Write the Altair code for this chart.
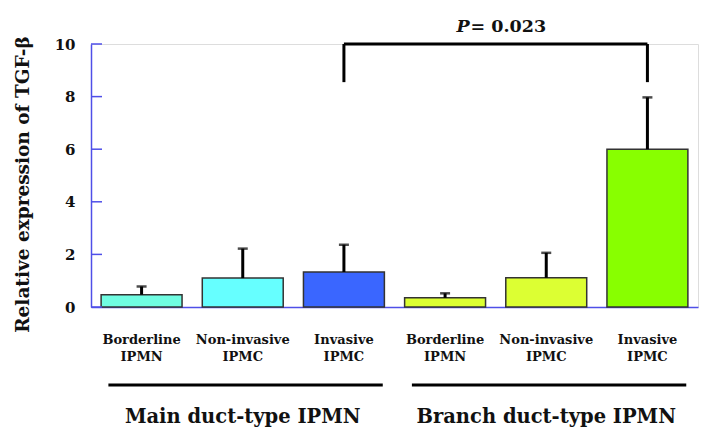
import altair as alt
import pandas as pd

# ---- data ----
cats = ["Main|Borderline|IPMN", "Main|Non-invasive|IPMC", "Main|Invasive|IPMC",
        "Branch|Borderline|IPMN", "Branch|Non-invasive|IPMC", "Branch|Invasive|IPMC"]
means = [0.47, 1.10, 1.33, 0.35, 1.11, 6.00]
upper = [0.78, 2.22, 2.37, 0.52, 2.06, 7.97]
colors = ["#70fde2", "#66ffff", "#3a66ff", "#dcff33", "#dcff33", "#88ff00"]

group_names = ["Main duct-type IPMN", "Branch duct-type IPMN"]
group_start = [cats[0], cats[3]]
group_end = [cats[2], cats[5]]
group_mid = [cats[1], cats[4]]

yticks = [0, 2, 4, 6, 8, 10]
bracket_ends = [cats[2], cats[5]]
bracket_top = 10.0
bracket_bottom = 8.55
p_value_text = "= 0.023"

FONT = "DejaVu Serif"
BLUE = "#4f4fe8"

bars_df = pd.DataFrame({"cat": cats, "mean": means, "upper": upper})
groups_df = pd.DataFrame({"name": group_names, "start": group_start,
                          "end": group_end, "mid": group_mid})
ticks_df = pd.DataFrame({"v": yticks})
bracket_h_df = pd.DataFrame({"a": [bracket_ends[0]], "b": [bracket_ends[1]], "y": [bracket_top]})
bracket_v_df = pd.DataFrame({"cat": bracket_ends, "y": [bracket_bottom] * 2, "y2": [bracket_top] * 2})
ptext_df = pd.DataFrame({"cat": [cats[3]], "y": [10.65]})

xscale = alt.Scale(domain=cats, paddingInner=0.2, paddingOuter=0.1)
yscale = alt.Scale(domain=[0, 10], nice=False, zero=True)

x_axis = alt.Axis(
    title=None, labelAngle=0, ticks=False,
    labelExpr="slice(split(datum.label, '|'), 1)",
    labelFont=FONT, labelFontSize=13, labelFontWeight="bold", labelColor="#111",
    labelLineHeight=17.5, labelPadding=26, labelBaseline="top",
    domainColor=BLUE, domainWidth=1.5,
)
y_axis = alt.Axis(
    title="Relative expression of TGF-β", values=yticks, ticks=False, grid=False,
    labelFont=FONT, labelFontSize=15, labelFontWeight="bold", labelColor="#111",
    labelPadding=16, domainColor=BLUE, domainWidth=1.5,
    titleFont=FONT, titleFontSize=18.5, titleFontWeight="bold", titleColor="#111",
    titlePadding=22, titleY=140,
)

base = alt.Chart(bars_df)

bars = base.mark_bar(stroke="#333333", strokeWidth=1.5).encode(
    x=alt.X("cat:N", scale=xscale, axis=x_axis, sort=cats),
    y=alt.Y("mean:Q", scale=yscale, axis=y_axis),
    color=alt.Color("cat:N", scale=alt.Scale(domain=cats, range=colors), legend=None),
)

stems = base.mark_rule(color="black", strokeWidth=3).encode(
    x=alt.X("cat:N", scale=xscale, sort=cats),
    y=alt.Y("mean:Q", scale=yscale),
    y2="upper:Q",
)

caps = base.mark_tick(color="black", size=10, thickness=2.5).encode(
    x=alt.X("cat:N", scale=xscale, sort=cats),
    y=alt.Y("upper:Q", scale=yscale),
)

inner_ticks = alt.Chart(ticks_df).mark_rule(color=BLUE, strokeWidth=1.5).encode(
    x=alt.value(0), x2=alt.value(11),
    y=alt.Y("v:Q", scale=yscale),
)

bracket_h = alt.Chart(bracket_h_df).mark_rule(color="black", strokeWidth=3).encode(
    x=alt.X("a:N", scale=xscale, bandPosition=0.5),
    x2=alt.X2("b:N", bandPosition=0.5),
    y=alt.Y("y:Q", scale=yscale),
)

bracket_v = alt.Chart(bracket_v_df).mark_rule(color="black", strokeWidth=3).encode(
    x=alt.X("cat:N", scale=xscale),
    y=alt.Y("y:Q", scale=yscale),
    y2="y2:Q",
)

p_italic = alt.Chart(ptext_df).mark_text(
    text="P", font=FONT, fontSize=17.5, fontWeight="bold", fontStyle="italic",
    align="right", baseline="middle", dx=-16, color="#111",
).encode(
    x=alt.X("cat:N", scale=xscale, bandPosition=1),
    y=alt.Y("y:Q", scale=yscale),
)
p_rest = alt.Chart(ptext_df).mark_text(
    text=p_value_text, font=FONT, fontSize=17.5, fontWeight="bold",
    align="left", baseline="middle", dx=-15, color="#111",
).encode(
    x=alt.X("cat:N", scale=xscale, bandPosition=1),
    y=alt.Y("y:Q", scale=yscale),
)

group_lines = alt.Chart(groups_df).mark_rule(color="black", strokeWidth=3).encode(
    x=alt.X("start:N", scale=xscale, bandPosition=0.09),
    x2=alt.X2("end:N", bandPosition=0.98),
    y=alt.value(341),
)

group_text = alt.Chart(groups_df).mark_text(
    font=FONT, fontSize=19.5, fontWeight="bold", baseline="middle", align="center", color="#111",
).encode(
    x=alt.X("mid:N", scale=xscale),
    y=alt.value(373),
    text="name:N",
)

chart = alt.layer(
    bars, stems, caps, inner_ticks, bracket_h, bracket_v, p_italic, p_rest,
    group_lines, group_text,
).properties(
    width=607, height=263,
    autosize=alt.AutoSizeParams(type="none"),
    padding={"left": 83, "top": 36, "right": 2, "bottom": 120},
).configure_view(stroke=None).configure(background="white")

chart.save("out.html", embed_options={"renderer": "svg", "actions": False})
